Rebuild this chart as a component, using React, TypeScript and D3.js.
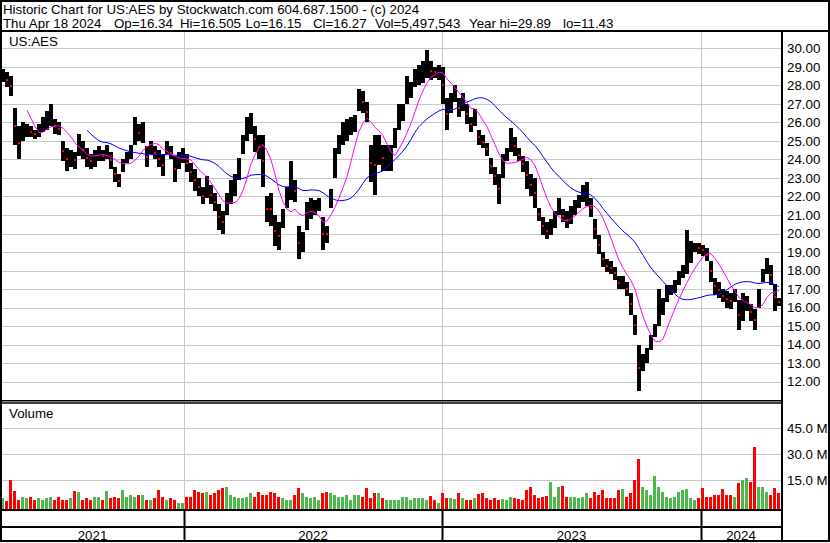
import React from "react";
import * as d3 from "d3";

// ---- header text ----
const titleLine = "Historic Chart for US:AES by Stockwatch.com 604.687.1500 - (c) 2024";
const quoteParts = ["Thu Apr 18 2024", "Op=16.34", "Hi=16.505", "Lo=16.15", "Cl=16.27", "Vol=5,497,543", "Year hi=29.89", "lo=11.43"];
const quoteX = [3, 114, 180, 245.6, 313, 375, 469, 563];
const symbol = "US:AES";

// ---- price axis ticks ----
const priceTicks = [12, 13, 14, 15, 16, 17, 18, 19, 20, 21, 22, 23, 24, 25, 26, 27, 28, 29, 30];
const volTicks = [15, 30, 45];
const years = ["2021", "2022", "2023", "2024"];
const yearStartIdx = [0, 45.75, 110.25, 175];

// ---- price data (each entry ~4 trading days): high / low ----
const hi = [28.9,28.7,28.5,26.8,25.8,26.0,25.9,25.8,25.6,25.9,
 26.3,26.6,27.0,26.2,26.0,25.0,24.6,24.5,24.4,25.4,
 25.0,24.6,24.3,24.5,24.7,24.5,24.8,24.4,23.6,23.2,
 24.0,24.4,24.8,26.3,25.9,26.0,24.7,25.0,24.7,24.5,
 24.3,25.0,24.7,24.2,24.4,24.6,24.3,23.8,23.5,23.0,
 22.5,23.1,22.6,22.2,21.6,21.2,22.2,22.9,23.2,24.1,
 25.3,26.3,26.5,25.8,25.3,25.3,22.0,22.2,21.0,20.6,
 21.3,22.5,23.9,22.9,20.4,20.1,21.7,21.9,21.8,21.9,
 20.9,20.4,22.4,24.6,25.3,26.0,26.2,26.3,26.4,27.8,
 27.7,27.1,24.8,25.3,25.3,24.8,24.8,24.8,25.7,27.0,
 27.0,28.5,28.2,28.9,29.1,29.3,29.9,29.3,29.0,29.1,
 29.0,27.3,27.6,28.0,27.3,27.6,27.0,26.3,26.7,25.6,
 25.3,24.9,24.1,23.6,23.2,24.3,24.6,25.7,25.2,24.6,
 24.2,23.9,23.2,23.0,21.4,20.9,20.6,20.8,21.2,21.9,
 21.3,21.2,21.5,21.8,22.1,22.6,22.8,21.9,20.8,19.9,
 19.0,18.6,18.5,18.2,17.7,17.7,17.4,16.8,15.6,14.0,
 13.5,13.8,14.5,15.1,17.0,16.5,17.2,17.2,17.5,18.0,
 18.3,20.2,19.6,19.5,19.5,19.4,19.2,18.5,17.6,17.4,
 17.0,16.9,16.8,17.0,16.4,16.8,16.6,16.2,15.9,17.0,
 18.1,18.7,18.3,17.3,16.5];
const lo = [28.2,27.9,27.4,24.8,24.0,25.0,25.2,25.2,25.1,25.2,
 25.5,25.6,25.8,25.4,25.3,23.9,23.4,23.6,23.5,24.2,
 24.0,23.6,23.5,23.6,23.9,23.9,24.0,23.5,22.8,22.5,
 23.3,23.8,24.0,24.8,25.0,24.9,23.6,24.3,24.0,23.6,
 23.1,24.3,24.0,22.8,23.5,23.8,23.3,22.8,22.3,22.0,
 21.6,21.9,21.6,21.2,20.2,20.0,21.0,21.6,22.0,22.9,
 24.3,25.0,25.4,24.4,24.0,22.5,20.6,20.4,19.3,19.1,
 20.3,21.4,21.8,21.7,18.6,19.0,20.2,20.8,21.0,21.2,
 19.1,19.5,21.4,23.0,24.3,24.8,25.0,25.3,25.5,26.6,
 26.5,26.0,22.8,22.1,23.7,23.4,23.4,23.4,24.6,25.6,
 26.1,27.0,27.3,27.9,28.0,28.1,28.4,28.3,28.4,28.3,
 27.0,25.6,26.5,27.1,26.3,26.6,25.9,25.5,25.8,24.8,
 24.6,24.2,23.2,22.6,21.6,23.0,23.9,24.4,24.2,23.9,
 23.3,22.4,22.0,21.4,20.7,19.9,19.7,19.9,20.3,21.0,
 20.6,20.3,20.5,21.0,21.4,21.7,21.5,20.9,19.7,18.9,
 18.2,17.9,17.8,17.5,17.0,17.0,16.6,15.6,14.5,11.5,
 12.6,13.0,13.7,14.4,15.0,15.6,16.3,16.7,16.8,17.2,
 17.6,17.8,18.4,19.0,18.9,18.8,18.5,17.4,16.7,16.5,
 16.3,16.0,15.9,16.3,14.8,15.3,15.8,15.3,14.8,16.0,
 17.4,17.8,17.2,15.8,16.1];

// ---- volume (millions) ----
const vol = [4.6,3.0,15.2,8.8,3.6,5.6,4.6,5.6,3.6,4.6,
 3.6,4.6,5.6,3.6,5.6,3.6,3.6,4.6,9.0,8.5,
 3.6,4.6,3.6,5.6,5.6,3.6,9.0,4.6,5.6,4.6,
 9.4,5.6,6.5,5.6,6.5,6.5,3.6,3.6,4.6,9.4,
 5.6,3.6,4.6,3.6,1.7,1.7,5.6,5.6,9.4,8.5,
 7.5,8.5,6.5,7.5,9.4,10.4,11.3,6.5,5.6,4.6,
 4.6,5.6,7.5,5.6,8.5,6.5,6.5,8.5,7.5,5.6,
 4.6,3.6,3.6,6.5,10.4,7.5,5.6,4.6,5.6,3.6,
 7.5,8.5,7.5,6.5,5.6,5.6,6.5,3.6,6.5,6.5,
 5.6,10.4,4.6,7.5,7.5,4.6,3.6,3.6,3.6,3.6,
 5.6,5.6,3.6,4.6,4.6,4.6,3.6,6.0,3.6,1.7,
 7.5,4.6,4.6,4.0,7.5,4.6,3.6,3.6,4.6,7.0,
 7.5,4.6,3.6,4.6,3.6,4.0,3.6,5.6,4.6,4.0,
 3.6,9.4,11.3,6.5,4.6,5.6,6.0,14.2,5.6,11.3,
 11.5,5.6,5.6,5.6,4.6,5.6,7.5,4.6,8.5,6.5,
 9.4,4.6,4.6,4.6,9.4,9.8,5.6,7.5,15.2,27.1,
 11.0,9.4,6.5,17.5,11.3,8.5,5.6,4.6,5.6,8.5,
 9.4,9.8,4.6,3.6,4.6,10.4,5.6,5.6,6.5,6.5,
 9.8,6.5,6.5,5.6,13.7,15.4,16.4,14.0,34.4,11.3,
 11.0,8.0,6.5,10.4,7.5];

const shortWin = 7;
const longWin = 22;

const FONT = "'Liberation Sans', Arial, sans-serif";
const GRID = "#c8c8c8";

function sma(arr: number[], w: number) {
  const out: { i: number; v: number }[] = [];
  for (let i = w - 1; i < arr.length; i++) {
    out.push({ i, v: d3.mean(arr.slice(i - w + 1, i + 1)) as number });
  }
  return out;
}

export default function App() {
  const N = hi.length;
  const x = d3.scaleLinear().domain([0, N]).range([1, 781]);
  const yP = d3.scaleLinear().domain([12, 30]).range([381.7, 48.3]);
  const yV = d3.scaleLinear().domain([0, 45]).range([506.3, 428.3]);
  const mid = hi.map((h, i) => (h + lo[i]) / 2);
  const maS = sma(mid, shortWin);
  const maL = sma(mid, longWin);
  const line = d3
    .line<{ i: number; v: number }>()
    .x((d) => x(d.i + 0.5))
    .y((d) => yP(d.v));
  const yearX = yearStartIdx.map((s) => x(s));
  const yearEnd = [...yearX.slice(1), 781];

  return (
    <svg
      width={830}
      height={543}
      style={{ position: "fixed", left: 0, top: 0, background: "#fff" }}
      fontFamily={FONT}
    >
      <rect x={0} y={0} width={830} height={543} fill="#fff" />
      {/* header */}
      <text x={3} y={13.5} fontSize={13.3} fill="#000">{titleLine}</text>
      <text y={27.5} fontSize={13.3} fill="#000">
        {quoteParts.map((p, k) => (
          <tspan key={k} x={quoteX[k]}>{p}</tspan>
        ))}
      </text>

      {/* price grid */}
      {priceTicks.map((t) => (
        <line key={t} x1={2} x2={781} y1={Math.round(yP(t)) + 0.5} y2={Math.round(yP(t)) + 0.5} stroke={GRID} />
      ))}
      {yearX.slice(1).map((xx, k) => (
        <line key={k} x1={Math.round(xx) + 0.5} x2={Math.round(xx) + 0.5} y1={32} y2={400} stroke={GRID} />
      ))}
      {/* volume grid */}
      {volTicks.map((t) => (
        <line key={t} x1={2} x2={781} y1={Math.round(yV(t)) + 0.5} y2={Math.round(yV(t)) + 0.5} stroke={GRID} />
      ))}
      {yearX.slice(1).map((xx, k) => (
        <line key={k} x1={Math.round(xx) + 0.5} x2={Math.round(xx) + 0.5} y1={403} y2={509} stroke={GRID} />
      ))}

      {/* price bars */}
      {hi.map((h, i) => (
        <rect key={i} x={x(i)} width={x(i + 1) - x(i)} y={yP(h)} height={yP(lo[i]) - yP(h)} fill="#000" shapeRendering="crispEdges" />
      ))}
      {mid.map((m, i) =>
        i > 0 && m < mid[i - 1] ? (
          <rect key={i} x={x(i) + 1} y={Math.round(yP(m)) - 1} width={2} height={2} fill="#ff0000" />
        ) : null
      )}
      {/* moving averages */}
      <path d={line(maL) || ""} fill="none" stroke="#0000ff" strokeWidth={1} />
      <path d={line(maS) || ""} fill="none" stroke="#ff00ff" strokeWidth={1} />

      {/* volume bars */}
      {vol.map((v, i) => (
        <rect
          key={i}
          x={x(i)}
          width={x(i + 1) - x(i) - 1}
          y={yV(v)}
          height={509 - yV(v)}
          fill={i > 0 && mid[i] < mid[i - 1] ? "#ff0000" : "#4db84d"}
          shapeRendering="crispEdges"
        />
      ))}

      {/* labels */}
      <text x={9} y={46} fontSize={13.3} fill="#000">{symbol}</text>
      <text x={9} y={417.5} fontSize={13.3} fill="#000">Volume</text>
      {priceTicks.map((t) => (
        <text key={t} x={787} y={yP(t) + 4.7} fontSize={13.3} fill="#000">{t.toFixed(2)}</text>
      ))}
      {volTicks.map((t) => (
        <text key={t} x={787} y={yV(t) + 4.7} fontSize={13.3} fill="#000">{t.toFixed(1) + " M"}</text>
      ))}

      {/* frame lines */}
      <line x1={0} x2={830} y1={31} y2={31} stroke="#000" strokeWidth={2} />
      <line x1={782} x2={782} y1={31} y2={542} stroke="#000" strokeWidth={2} />
      <line x1={0} x2={782} y1={400.75} y2={400.75} stroke="#000" strokeWidth={1.5} />
      <line x1={0} x2={782} y1={403} y2={403} stroke="#000" strokeWidth={1.5} />
      <line x1={0} x2={782} y1={510} y2={510} stroke="#000" strokeWidth={2} />
      <line x1={0} x2={782} y1={527} y2={527} stroke="#000" strokeWidth={2} />
      {yearX.slice(1).map((xx, k) => (
        <line key={k} x1={Math.round(xx) + 0.5} x2={Math.round(xx) + 0.5} y1={510} y2={541} stroke="#000" strokeWidth={2} />
      ))}
      {years.map((yr, k) => (
        <text key={yr} x={(yearX[k] + yearEnd[k]) / 2} y={539.5} fontSize={13.3} textAnchor="middle" fill="#000">{yr}</text>
      ))}
      <rect x={1} y={1} width={828} height={540} fill="none" stroke="#000" strokeWidth={2} />
    </svg>
  );
}
